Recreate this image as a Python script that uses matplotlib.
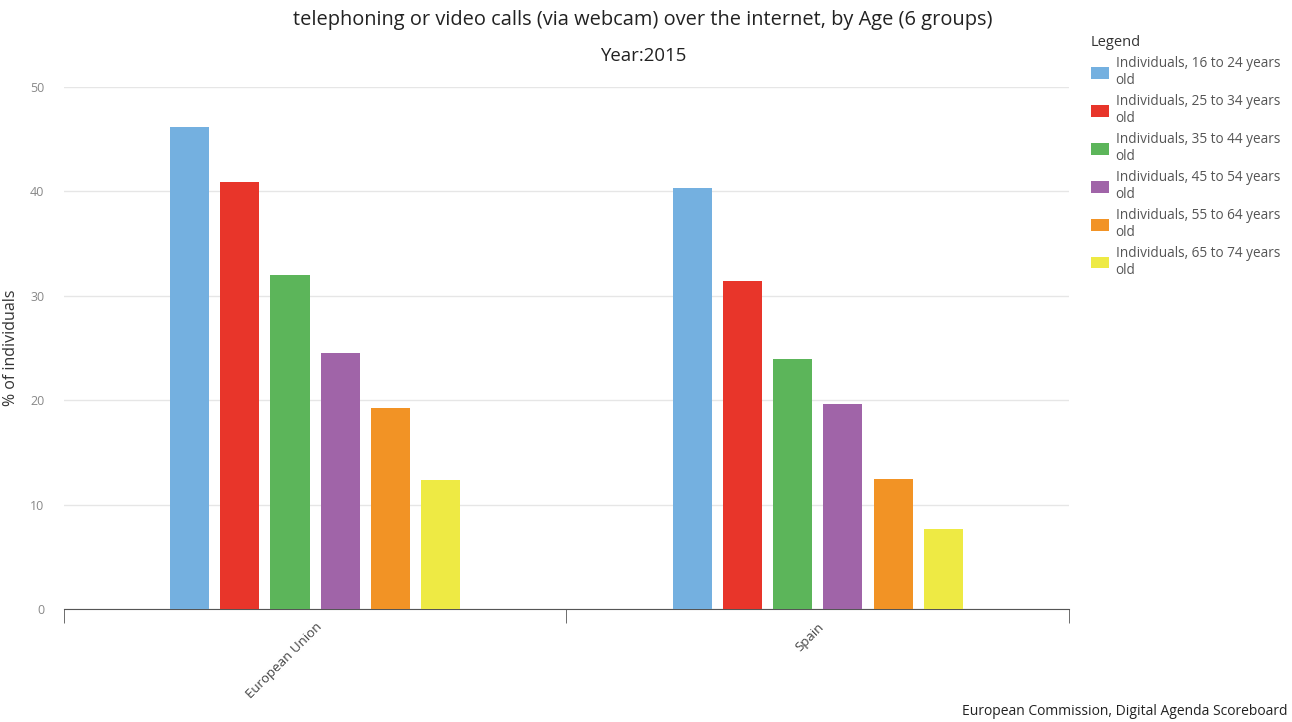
import matplotlib
matplotlib.use("Agg")
import matplotlib.pyplot as plt
import numpy as np

plt.rcParams['font.family'] = ['Open Sans', 'DejaVu Sans']

# data
countries = ["European Union", "Spain"]
age_groups = ["Individuals, 16 to 24 years\nold", "Individuals, 25 to 34 years\nold",
              "Individuals, 35 to 44 years\nold", "Individuals, 45 to 54 years\nold",
              "Individuals, 55 to 64 years\nold", "Individuals, 65 to 74 years\nold"]
values = [
    [46.2, 40.3],
    [40.9, 31.4],
    [32.0, 23.9],
    [24.5, 19.6],
    [19.3, 12.5],
    [12.4, 7.7],
]
colors = ["#74b0e0", "#e8352a", "#5cb55a", "#a064a8", "#f29325", "#eeea44"]

fig = plt.figure(figsize=(12.92, 7.22), dpi=100)
ax = fig.add_axes([0.0495, 0.1565, 0.7779, 0.723])

x = np.arange(len(countries))
step = 0.1
width = 0.078
for i, (vals, col) in enumerate(zip(values, colors)):
    offset = (i - 2.5) * step
    ax.bar(x + offset, vals, width, color=col, label=age_groups[i], zorder=3)

ax.set_xlim(-0.5, 1.5)
ax.set_ylim(0, 50)
ax.set_yticks([0, 10, 20, 30, 40, 50])
ax.grid(axis='y', color='#e6e6e6', linewidth=1, zorder=0)
for s in ['top', 'right', 'left']:
    ax.spines[s].set_visible(False)
ax.spines['bottom'].set_color('#555555')
ax.tick_params(axis='y', length=0, labelsize=9, labelcolor='#888888', pad=14)

ax.set_xticks(x)
ax.set_xticklabels(countries, rotation=45, ha='right', rotation_mode='anchor',
                   fontsize=9.5, color='#444444')
ax.tick_params(axis='x', which='major', length=0, pad=8)
ax.set_xticks([-0.5, 0.5, 1.5], minor=True)
ax.tick_params(axis='x', which='minor', length=10, color='#555555')

ax.set_ylabel("% of individuals", fontsize=11.5, color='#333333', labelpad=8)

fig.text(0.4977, 0.972, "telephoning or video calls (via webcam) over the internet, by Age (6 groups)",
         ha='center', va='center', fontsize=14.4, color='#222222')
fig.text(0.4977, 0.922, "Year:2015", ha='center', va='center', fontsize=13.4, color='#222222')

leg = fig.legend(loc='upper left', bbox_to_anchor=(0.8445, 0.951), frameon=False,
                 title="Legend", alignment='left', fontsize=9.8, title_fontsize=10.5,
                 handlelength=1.3, handleheight=0.95, handletextpad=0.5,
                 labelspacing=0.42, borderaxespad=0, borderpad=0)
for t in leg.get_texts():
    t.set_color('#555555')
leg.get_title().set_color('#333333')

fig.text(0.7446, 0.004, "European Commission, Digital Agenda Scoreboard",
         ha='left', va='bottom', fontsize=10, color='#222222')

fig.savefig("out.png", dpi=100)
